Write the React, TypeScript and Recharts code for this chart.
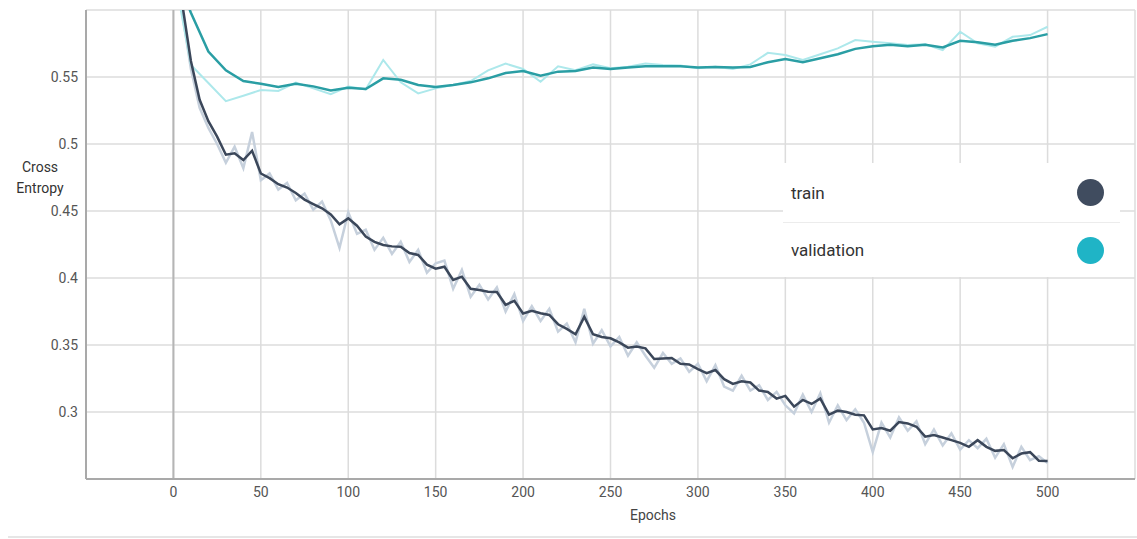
import React from 'react';
import { LineChart, Line, XAxis, YAxis, CartesianGrid, ReferenceLine } from 'recharts';

// train loss, one reading every 5 epochs (0..500)
const TRAIN_STEP = 5;
const trainRaw = [
  0.74, 0.598, 0.556, 0.527, 0.512, 0.5, 0.486, 0.498, 0.482, 0.509,
  0.473, 0.478, 0.466, 0.471, 0.458, 0.463, 0.451, 0.457, 0.443, 0.4225,
  0.449, 0.433, 0.436, 0.421, 0.43, 0.418, 0.427, 0.412, 0.421, 0.404,
  0.411, 0.413, 0.392, 0.406, 0.386, 0.395, 0.384, 0.393, 0.375, 0.388,
  0.368, 0.379, 0.368, 0.377, 0.36, 0.366, 0.352, 0.377, 0.351, 0.361,
  0.349, 0.356, 0.342, 0.352, 0.342, 0.333, 0.344, 0.336, 0.34, 0.33,
  0.336, 0.323, 0.335, 0.319, 0.316, 0.327, 0.316, 0.32, 0.309, 0.315,
  0.305, 0.299, 0.313, 0.3, 0.314, 0.292, 0.305, 0.294, 0.302, 0.292,
  0.27, 0.292, 0.281, 0.296, 0.286, 0.293, 0.276, 0.287, 0.275, 0.284,
  0.272, 0.279, 0.273, 0.28, 0.266, 0.276, 0.259, 0.274, 0.264, 0.267,
  0.262,
];
const trainSmooth = [
  0.72, 0.605, 0.562, 0.533, 0.517, 0.5055, 0.492, 0.493, 0.488, 0.495,
  0.478, 0.4745, 0.47, 0.4675, 0.4635, 0.4585, 0.4552, 0.452, 0.4475, 0.44,
  0.4445, 0.439, 0.431, 0.427, 0.4246, 0.4236, 0.4234, 0.4186, 0.4172, 0.41,
  0.407, 0.4084, 0.3985, 0.401, 0.392, 0.391, 0.3898, 0.3895, 0.38, 0.383,
  0.3735, 0.3755, 0.3737, 0.3724, 0.3655, 0.362, 0.358, 0.371, 0.358, 0.356,
  0.355, 0.352, 0.348, 0.3488, 0.3475, 0.3395, 0.34, 0.3403, 0.336, 0.3355,
  0.332, 0.329, 0.3313, 0.3245, 0.321, 0.323, 0.322, 0.316, 0.315, 0.31,
  0.312, 0.304, 0.309, 0.306, 0.31, 0.298, 0.301, 0.3, 0.298, 0.2975,
  0.287, 0.288, 0.286, 0.2925, 0.2915, 0.289, 0.2816, 0.2828, 0.281, 0.279,
  0.277, 0.274, 0.279, 0.274, 0.271, 0.2716, 0.2655, 0.269, 0.27, 0.2637,
  0.2635,
];

// validation loss, one reading every 10 epochs (0..500)
const VAL_STEP = 10;
const valRaw = [
  0.63, 0.559, 0.5455, 0.532, 0.536, 0.5403, 0.5396, 0.5458, 0.5415, 0.5371,
  0.5428, 0.5408, 0.5627, 0.546, 0.5378, 0.5415, 0.544, 0.547, 0.555, 0.56,
  0.556, 0.5465, 0.558, 0.555, 0.5594, 0.5565, 0.5577, 0.56, 0.559, 0.5585,
  0.5565, 0.5577, 0.556, 0.5594, 0.568, 0.5664, 0.5627, 0.567, 0.5714, 0.5776,
  0.5763, 0.5751, 0.5739, 0.5744, 0.57, 0.5838, 0.5751, 0.5726, 0.58, 0.5813,
  0.5875,
];
const valSmooth = [
  0.63, 0.598, 0.569, 0.555, 0.547, 0.545, 0.5425, 0.545, 0.543, 0.54,
  0.542, 0.541, 0.549, 0.548, 0.544, 0.5425, 0.544, 0.546, 0.549, 0.553,
  0.5545, 0.551, 0.554, 0.5545, 0.557, 0.556, 0.557, 0.558, 0.558, 0.558,
  0.557, 0.5575, 0.557, 0.5575, 0.561, 0.5634, 0.561, 0.564, 0.567, 0.571,
  0.573, 0.574, 0.573, 0.574, 0.572, 0.577, 0.576, 0.574, 0.577, 0.579,
  0.582,
];

const xTicks = [-50, 0, 50, 100, 150, 200, 250, 300, 350, 400, 450, 500, 550];
const yTicks = [0.25, 0.3, 0.35, 0.4, 0.45, 0.5, 0.55, 0.6];

const trainRawData = trainRaw.map((v, i) => ({ epoch: i * TRAIN_STEP, loss: v }));
const trainSmoothData = trainSmooth.map((v, i) => ({ epoch: i * TRAIN_STEP, loss: v }));
const valRawData = valRaw.map((v, i) => ({ epoch: i * VAL_STEP, loss: v }));
const valSmoothData = valSmooth.map((v, i) => ({ epoch: i * VAL_STEP, loss: v }));

const FONT = 'Roboto, "Noto Sans", sans-serif';

// the outermost ticks are faded out in the original, so they get no label
const XTick = (props: any) => {
  const { x, y, payload } = props;
  if (payload.value === -50 || payload.value === 550) return <g />;
  return (
    <text x={x} y={y} dy={10} textAnchor="middle" fontSize={14} fontFamily={FONT} fill="#555">
      {payload.value}
    </text>
  );
};

const YTick = (props: any) => {
  const { x, y, payload } = props;
  if (payload.value === 0.25 || payload.value === 0.6) return <g />;
  return (
    <text x={x} y={y} dy={5} textAnchor="end" fontSize={14} fontFamily={FONT} fill="#555">
      {String(payload.value)}
    </text>
  );
};

const legendItems = [
  { name: 'train', color: '#404c5f' },
  { name: 'validation', color: '#1fb4c6' },
];

export default function App() {
  return (
    <div style={{ position: 'absolute', left: 0, top: 0, width: 1137, height: 539, background: '#fff', fontFamily: FONT }}>
      <LineChart width={1137} height={539} margin={{ top: 10, right: 2, left: 0, bottom: 30 }}>
        <CartesianGrid stroke="#dcdcdc" strokeWidth={1.5} horizontalValues={yTicks} verticalValues={xTicks} />
        <XAxis
          type="number"
          dataKey="epoch"
          domain={[-50, 550]}
          ticks={xTicks}
          tick={<XTick />}
          tickLine={false}
          axisLine={{ stroke: '#a9a9a9', strokeWidth: 2 }}
          height={30}
          allowDataOverflow
        />
        <YAxis
          type="number"
          domain={[0.25, 0.6]}
          ticks={yTicks}
          tick={<YTick />}
          tickLine={false}
          axisLine={{ stroke: '#a9a9a9', strokeWidth: 2 }}
          width={86}
          allowDataOverflow
        />
        <ReferenceLine x={0} stroke="#b5b5b5" strokeWidth={2} />
        <Line data={trainRawData} dataKey="loss" type="linear" stroke="#c6d0dc" strokeWidth={2.5} dot={false} isAnimationActive={false} />
        <Line data={valRawData} dataKey="loss" type="linear" stroke="#ade8eb" strokeWidth={2} dot={false} isAnimationActive={false} />
        <Line data={trainSmoothData} dataKey="loss" type="linear" stroke="#3b475a" strokeWidth={2.5} dot={false} isAnimationActive={false} />
        <Line data={valSmoothData} dataKey="loss" type="linear" stroke="#2a9ea4" strokeWidth={2.5} dot={false} isAnimationActive={false} />
      </LineChart>

      <div style={{ position: 'absolute', left: 0, width: 80, top: 157, textAlign: 'center', fontSize: 14, lineHeight: '21px', color: '#333' }}>
        Cross
        <br />
        Entropy
      </div>
      <div style={{ position: 'absolute', left: 603, width: 100, top: 505, textAlign: 'center', fontSize: 14, lineHeight: '20px', color: '#444' }}>
        Epochs
      </div>

      <div style={{ position: 'absolute', left: 783, top: 163, width: 337, height: 114, background: '#fff' }}>
        {legendItems.map((item, i) => (
          <div
            key={item.name}
            style={{
              height: i === 0 ? 59 : 55,
              display: 'flex',
              alignItems: 'center',
              justifyContent: 'space-between',
              padding: '0 16px 0 8px',
              borderTop: i === 1 ? '1px solid #ececec' : 'none',
              boxSizing: 'border-box',
            }}
          >
            <span style={{ fontSize: 17, color: '#333' }}>{item.name}</span>
            <span style={{ width: 27, height: 27, borderRadius: '50%', background: item.color, display: 'inline-block' }} />
          </div>
        ))}
      </div>

      <div style={{ position: 'absolute', left: 8, right: 0, top: 536, height: 2, background: '#e6e6e6' }} />
    </div>
  );
}
